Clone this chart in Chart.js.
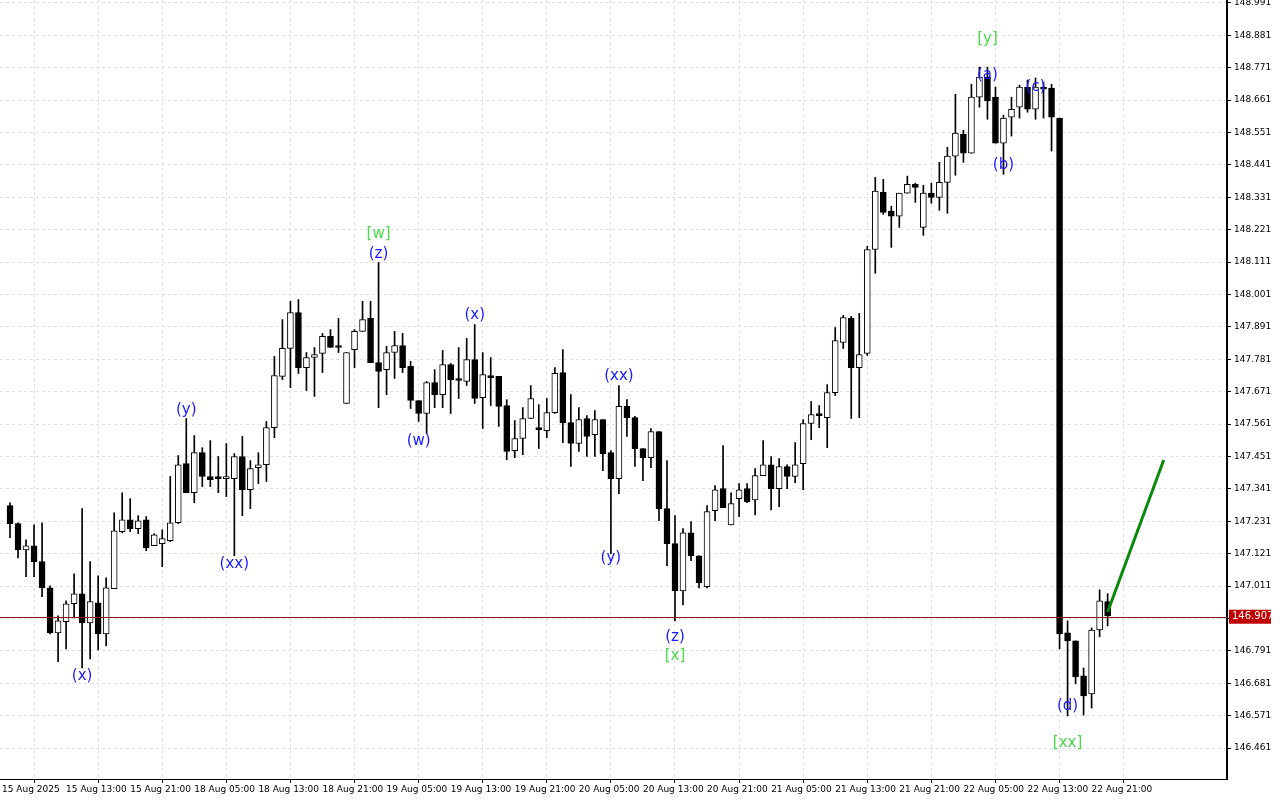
<!DOCTYPE html>
<html><head><meta charset="utf-8">
<script src="https://cdn.jsdelivr.net/npm/chart.js@4"></script>
<style>html,body{margin:0;padding:0;background:#fff}#wrap{width:1280px;height:800px}</style>
</head><body><div id="wrap"><canvas id="c" width="1280" height="800"></canvas></div>
<script>
const openP=[147.284,147.223,147.134,147.148,147.094,147.005,146.852,146.890,146.951,146.985,
146.886,146.954,146.849,147.002,147.196,147.236,147.206,147.236,147.148,147.155,
147.165,147.226,147.427,147.328,147.464,147.383,147.379,147.376,147.376,147.451,
147.338,147.413,147.423,147.549,147.723,147.818,147.940,147.753,147.787,147.801,
147.859,147.828,147.631,147.814,147.876,147.920,147.770,147.746,147.804,147.828,
147.757,147.641,147.597,147.702,147.661,147.763,147.712,147.706,147.780,147.651,
147.726,147.723,147.624,147.471,147.512,147.580,147.546,147.539,147.600,147.736,
147.566,147.495,147.580,147.525,147.576,147.464,147.376,147.621,147.583,147.478,
147.447,147.536,147.274,147.155,146.995,147.192,147.114,147.009,147.267,147.342,
147.219,147.308,147.342,147.304,147.386,147.423,147.342,147.417,147.383,147.427,
147.563,147.593,147.583,147.668,147.838,147.920,147.753,147.801,148.154,148.348,
148.284,148.267,148.345,148.375,148.229,148.345,148.331,148.382,148.471,148.545,
148.481,148.671,148.739,148.671,148.515,148.603,148.637,148.705,148.630,148.705,
148.702,148.600,146.852,146.825,146.706,146.645,146.862,146.958];
const highP=[147.294,147.226,147.168,147.219,147.226,147.012,146.910,146.961,147.053,147.274,
147.094,147.046,147.039,147.260,147.328,147.308,147.250,147.247,147.189,147.202,
147.383,147.454,147.580,147.522,147.481,147.505,147.451,147.495,147.461,147.519,
147.437,147.464,147.570,147.791,147.916,147.978,147.984,147.804,147.821,147.869,
147.882,147.920,147.804,147.882,147.978,147.978,148.110,147.825,147.876,147.869,
147.774,147.641,147.706,147.746,147.811,147.767,147.821,147.852,147.899,147.804,
147.787,147.723,147.644,147.573,147.617,147.692,147.627,147.648,147.753,147.814,
147.661,147.617,147.590,147.607,147.576,147.471,147.692,147.644,147.587,147.478,
147.546,147.536,147.437,147.250,147.206,147.230,147.114,147.284,147.352,147.488,
147.328,147.359,147.359,147.410,147.505,147.451,147.444,147.423,147.498,147.576,
147.638,147.624,147.695,147.889,147.930,147.927,147.937,148.165,148.399,148.392,
148.301,148.345,148.403,148.379,148.372,148.379,148.450,148.501,148.681,148.559,
148.715,148.773,148.773,148.705,148.610,148.671,148.712,148.729,148.736,148.722,
148.715,148.600,146.893,146.825,146.733,146.869,146.998,146.985];
const lowP=[147.175,147.107,147.043,147.043,146.975,146.849,146.754,146.798,146.903,146.733,
146.764,146.794,146.808,147.002,147.192,147.196,147.189,147.131,147.148,147.077,
147.162,147.223,147.328,147.294,147.349,147.349,147.328,147.315,147.114,147.250,
147.274,147.359,147.366,147.515,147.712,147.685,147.733,147.675,147.655,147.736,
147.821,147.804,147.631,147.753,147.876,147.770,147.617,147.661,147.716,147.736,
147.614,147.570,147.529,147.617,147.617,147.597,147.648,147.692,147.631,147.546,
147.624,147.553,147.440,147.447,147.457,147.580,147.478,147.515,147.597,147.498,
147.417,147.468,147.451,147.451,147.403,147.121,147.325,147.519,147.417,147.369,
147.413,147.233,147.080,146.893,146.947,147.097,147.005,147.005,147.233,147.277,
147.219,147.247,147.294,147.253,147.386,147.270,147.281,147.342,147.362,147.338,
147.508,147.549,147.481,147.658,147.818,147.580,147.583,147.794,148.073,148.273,
148.161,148.229,148.345,148.314,148.202,148.311,148.287,148.277,148.406,148.450,
148.481,148.637,148.596,148.515,148.409,148.539,148.600,148.620,148.596,148.600,
148.488,146.798,146.570,146.679,146.573,146.597,146.839,146.876];
const closeP=[147.223,147.134,147.148,147.094,147.005,146.852,146.893,146.951,146.985,146.886,
146.958,146.849,147.005,147.199,147.236,147.206,147.233,147.141,147.185,147.172,
147.226,147.423,147.328,147.464,147.383,147.372,147.376,147.379,147.451,147.338,
147.410,147.423,147.549,147.726,147.818,147.940,147.753,147.787,147.797,147.859,
147.821,147.821,147.804,147.876,147.916,147.770,147.740,147.804,147.828,147.753,
147.641,147.597,147.702,147.661,147.763,147.712,147.709,147.780,147.648,147.729,
147.719,147.621,147.468,147.512,147.580,147.648,147.542,147.600,147.733,147.566,
147.495,147.576,147.519,147.576,147.461,147.376,147.621,147.583,147.478,147.447,
147.536,147.274,147.155,146.995,147.192,147.114,147.022,147.264,147.338,147.277,
147.291,147.338,147.298,147.386,147.423,147.342,147.417,147.383,147.423,147.563,
147.593,147.590,147.668,147.845,147.923,147.753,147.797,148.154,148.352,148.280,
148.267,148.345,148.375,148.365,148.345,148.331,148.382,148.471,148.549,148.481,
148.671,148.739,148.658,148.515,148.600,148.630,148.705,148.630,148.705,148.698,
148.603,146.849,146.825,146.703,146.638,146.862,146.961,146.910];
const timeLabels=["15 Aug 2025","15 Aug 13:00","15 Aug 21:00","18 Aug 05:00","18 Aug 13:00","18 Aug 21:00",
"19 Aug 05:00","19 Aug 13:00","19 Aug 21:00","20 Aug 05:00","20 Aug 13:00","20 Aug 21:00",
"21 Aug 05:00","21 Aug 13:00","21 Aug 21:00","22 Aug 05:00","22 Aug 13:00","22 Aug 21:00"];
const priceTicks=[146.461,146.571,146.681,146.791,146.901,147.011,147.121,147.231,147.341,147.451,147.561,147.671,
147.781,147.891,148.001,148.111,148.221,148.331,148.441,148.551,148.661,148.771,148.881,148.991];
const currentPrice=146.907;
const projX=[137,144], projY=[146.923,147.439];
const waveText=["(x)","(y)","(xx)","[w]","(z)","(w)","(x)","(xx)","(y)","(z)","[x]","[y]","(a)","(b)","(c)","(d)","[xx]"];
const waveBar=[9,22,28,46,46,51,58,76,75,83,83,122,122,124,128,132,132];
const wavePrice=[146.706,147.610,147.087,148.205,148.137,147.502,147.930,147.723,147.107,146.839,146.774,148.868,148.746,148.440,148.705,146.604,146.478];
const waveGreen=[0,0,0,1,0,0,0,0,0,0,1,1,0,0,0,0,1];

const wicks=openP.map((o,i)=>({x:i,y:[lowP[i],highP[i]]}));
const bodies=openP.map((o,i)=>({x:i,y:[o,closeP[i]]}));
const bodyFill=openP.map((o,i)=>closeP[i]>=o?'#ffffff':'#000000');

const overlay={id:'overlay',
 afterDatasetsDraw(ch){
  const c=ch.ctx,xs=ch.scales.x,ys=ch.scales.y,a=ch.chartArea;
  c.save();
  const py=Math.round(ys.getPixelForValue(currentPrice))+0.5;
  c.strokeStyle='#8a1a1a';c.lineWidth=1;c.beginPath();c.moveTo(a.left,py);c.lineTo(a.right,py);c.stroke();
  c.font='15px "DejaVu Sans"';c.textAlign='center';c.textBaseline='middle';
  waveText.forEach((t,i)=>{c.fillStyle=waveGreen[i]?'#4cd94c':'#1a1aff';
   c.fillText(t,xs.getPixelForValue(waveBar[i]),ys.getPixelForValue(wavePrice[i]));});
  c.restore();
 },
 afterDraw(ch){
  const c=ch.ctx,ys=ch.scales.y,a=ch.chartArea;
  c.save();
  const py=ys.getPixelForValue(currentPrice);
  c.fillStyle='#c00000';c.fillRect(a.right+2,py-7,42,14);
  c.fillStyle='#fff';c.font='10px "DejaVu Sans"';c.textAlign='left';c.textBaseline='middle';
  c.fillText(currentPrice.toFixed(3),a.right+5,py);
  c.restore();
 }};

new Chart(document.getElementById('c'),{
 type:'bar',
 data:{datasets:[
  {type:'line',data:projX.map((x,i)=>({x,y:projY[i]})),borderColor:'#0a8a0a',borderWidth:3,pointRadius:0,order:0},
  {data:bodies,backgroundColor:bodyFill,borderColor:'#000',borderWidth:1,borderSkipped:false,barThickness:6,minBarLength:2,grouped:false,order:1},
  {data:wicks,backgroundColor:'#000',borderWidth:0,barThickness:1,grouped:false,order:2}
 ]},
 options:{responsive:false,animation:false,devicePixelRatio:1,
  layout:{padding:0},
  plugins:{legend:{display:false},tooltip:{enabled:false}},
  scales:{
   x:{type:'linear',min:-1.25,max:151.9,offset:false,
    afterBuildTicks(s){s.ticks=timeLabels.map((t,i)=>({value:-1+8*i}));},
    afterFit(s){s.height=21;s.paddingLeft=0;s.paddingRight=0;},
    ticks:{autoSkip:false,maxRotation:0,align:'start',padding:1,color:'#000',font:{family:'DejaVu Sans',size:9},
     callback:(v,i)=>timeLabels[i]},
    grid:{color:'#e0e0e0',lineWidth:1,tickLength:4,tickColor:'#000'},
    border:{color:'#000',width:1,dash:[3,3]}
   },
   y:{position:'right',min:146.356,max:149.001,
    afterBuildTicks(s){s.ticks=priceTicks.map(v=>({value:v}));},
    afterFit(s){s.width=53;s.paddingTop=0;s.paddingBottom=0;},
    ticks:{autoSkip:false,padding:3,color:'#000',font:{family:'DejaVu Sans',size:9},callback:v=>v.toFixed(3)},
    grid:{color:'#e0e0e0',lineWidth:1,tickLength:4,tickColor:'#000'},
    border:{color:'#000',width:2,dash:[3,3]}
   }
  }
 },
 plugins:[overlay]
});
</script></body></html>
